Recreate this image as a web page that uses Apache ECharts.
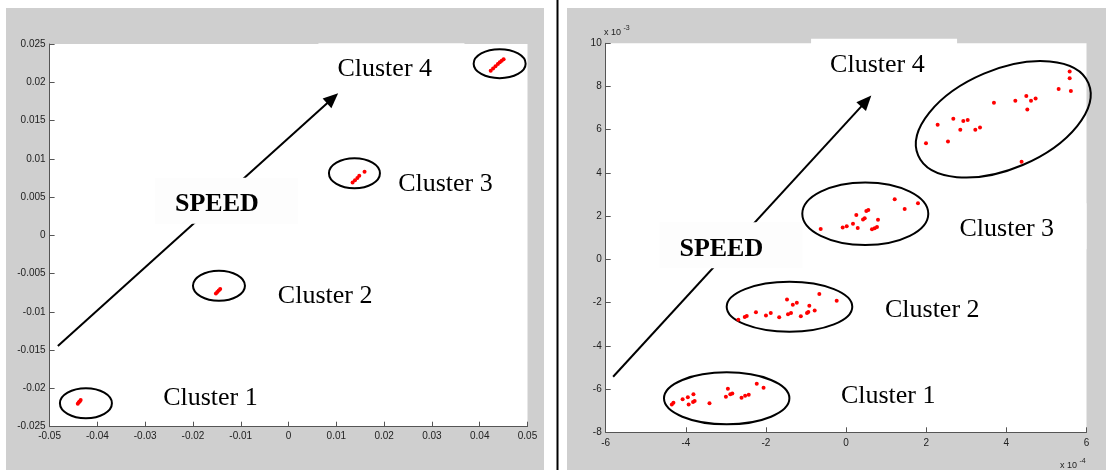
<!DOCTYPE html>
<html><head><meta charset="utf-8">
<script src="https://cdn.jsdelivr.net/npm/echarts@6/dist/echarts.min.js"></script>
<style>html,body{margin:0;padding:0;background:#fff}#c{width:1106px;height:470px}</style>
</head><body><div id="c"></div>
<script>
// ---------- tick labels ----------
const leftXTicks = ['-0.05','-0.04','-0.03','-0.02','-0.01','0','0.01','0.02','0.03','0.04','0.05'];
const leftYTicks = ['-0.025','-0.02','-0.015','-0.01','-0.005','0','0.005','0.01','0.015','0.02','0.025'];
const rightXTicks = ['-6','-4','-2','0','2','4','6'];
const rightYTicks = ['-8','-6','-4','-2','0','2','4','6','8','10'];
const clusterNames = ['Cluster 1','Cluster 2','Cluster 3','Cluster 4'];
const arrowLabel = 'SPEED';

// ---------- left panel data ----------
const leftCluster1 = [[-0.0441,-0.0220],[-0.0439,-0.0218],[-0.0437,-0.0217],[-0.0435,-0.0215]];
const leftCluster2 = [[-0.0152,-0.0076],[-0.0149,-0.0074],[-0.0146,-0.0072],[-0.0143,-0.0070]];
const leftCluster3 = [[0.0134,0.0069],[0.0139,0.0072],[0.0144,0.0075],[0.0148,0.0078],[0.0159,0.0083]];
const leftCluster4 = [[0.0423,0.0215],[0.0428,0.0218],[0.0433,0.0221],[0.0438,0.0224],[0.0442,0.0226],[0.0446,0.0228],[0.0450,0.0230]];

// ---------- right panel data (x in 1e-4, y in 1e-3) ----------
const rightCluster1 = [[-4.35,-6.71],[-4.31,-6.63],[-4.08,-6.47],[-3.95,-6.38],[-3.93,-6.71],[-3.81,-6.24],[-3.82,-6.60],[-3.78,-6.55],[-3.41,-6.66],[-3.00,-6.35],[-2.95,-5.98],[-2.89,-6.24],[-2.84,-6.21],[-2.61,-6.40],[-2.52,-6.31],[-2.43,-6.26],[-2.23,-5.75],[-2.06,-5.94]];
const rightCluster2 = [[-2.69,-2.79],[-2.53,-2.67],[-2.48,-2.62],[-2.25,-2.45],[-2.00,-2.59],[-1.88,-2.48],[-1.67,-2.68],[-1.475,-1.86],[-1.45,-2.54],[-1.375,-2.48],[-1.33,-2.10],[-1.23,-2.00],[-1.13,-2.63],[-0.976,-2.48],[-0.943,-2.43],[-0.918,-2.14],[-0.784,-2.36],[-0.668,-1.60],[-0.235,-1.91]];
const rightCluster3 = [[-0.634,1.41],[-0.085,1.48],[0.015,1.53],[0.172,1.65],[0.255,2.05],[0.29,1.45],[0.422,1.85],[0.464,1.90],[0.505,2.24],[0.555,2.29],[0.646,1.39],[0.713,1.44],[0.771,1.50],[0.796,1.84],[1.213,2.78],[1.462,2.33],[1.794,2.60]];
const rightCluster4 = [[1.994,5.37],[2.285,6.23],[2.543,5.46],[2.676,6.51],[2.85,6.00],[2.925,6.40],[3.035,6.45],[3.225,6.00],[3.342,6.10],[3.69,7.25],[4.224,7.34],[4.498,7.56],[4.523,6.94],[4.615,7.34],[4.73,7.44],[4.38,4.52],[5.305,7.89],[5.58,8.69],[5.58,8.38],[5.61,7.79]];

// ---------- annotation anchors (data coordinates) ----------
const leftLabelAnchors = [[-0.02624,-0.02122],[-0.00224,-0.0080],[0.02293,0.00671],[0.01023,0.02169]];
const leftSpeedAnchor = [-0.02377,0.00406];
const leftEllipseCenters = [[-0.0424,-0.02194],[-0.01456,-0.00658],[0.01379,0.00811],[0.04417,0.02243]];
const leftArrow = [[-0.04827,-0.01446],[0.01038,0.01856]];

const rightLabelAnchors = [[-0.13,-6.35],[0.97,-2.34],[2.83,1.39],[-0.40,9.01]];
const rightSpeedAnchor = [-4.16,0.49];
const rightEllipseCenters = [[-2.98,-6.43],[-1.413,-2.19],[0.479,2.115],[3.923,6.483]];
const rightArrow = [[-5.815,-5.43],[0.629,7.58]];

// ---------- layout / style ----------
const GRID_L = {left:49.6, top:44, width:477.9, height:382.7};
const GRID_R = {left:605.7, top:43.3, width:480.8, height:389};
const leftEllipseSizes = [[26,15,0],[26,15,0],[25.5,15,0],[26,14.5,0]];
const rightEllipseSizes = [[62.7,26,0],[62.8,25,0],[63,31.3,0],[92.5,49.6,23]];
const PANEL_GRAY = '#cfcfcf';
const AXIS_COLOR = '#555';

function axisCommon(labels, min, interval, margin){
  return {
    type:'value', min:min, max:min + interval*(labels.length-1), interval:interval,
    axisLine:{show:true, onZero:false, lineStyle:{color:AXIS_COLOR, width:1}},
    axisTick:{show:true, inside:true, length:5, lineStyle:{color:AXIS_COLOR}},
    axisLabel:{fontSize:10, color:'#222', fontFamily:'Liberation Sans', margin:margin,
      formatter:function(v){ const i=Math.round((v-min)/interval); return labels[i]; }},
    splitLine:{show:false}
  };
}

const chart = echarts.init(document.getElementById('c'), null, {renderer:'canvas'});
const scat = (data, xi) => ({type:'scatter', xAxisIndex:xi, yAxisIndex:xi, data:data, symbol:'circle', symbolSize:4,
  itemStyle:{color:'#ff0000', opacity:1}, z:10, silent:true});

chart.setOption({
  animation:false,
  grid:[
    Object.assign({show:false}, GRID_L),
    Object.assign({show:false}, GRID_R)
  ],
  xAxis:[
    Object.assign({gridIndex:0}, axisCommon(leftXTicks, -0.05, 0.01, 5)),
    Object.assign({gridIndex:1}, axisCommon(rightXTicks, -6, 2, 6))
  ],
  yAxis:[
    Object.assign({gridIndex:0}, axisCommon(leftYTicks, -0.025, 0.005, 4)),
    Object.assign({gridIndex:1}, axisCommon(rightYTicks, -8, 2, 4))
  ],
  series:[
    scat(leftCluster1,0), scat(leftCluster2,0), scat(leftCluster3,0), scat(leftCluster4,0),
    scat(rightCluster1,1), scat(rightCluster2,1), scat(rightCluster3,1), scat(rightCluster4,1)
  ]
});

const g = [];
// panel backgrounds
g.push({type:'rect', shape:{x:6,y:8,width:538,height:462}, style:{fill:PANEL_GRAY}, z:-100, silent:true});
g.push({type:'rect', shape:{x:567,y:8,width:539,height:462}, style:{fill:PANEL_GRAY}, z:-100, silent:true});
g.push({type:'rect', shape:{x:GRID_L.left,y:GRID_L.top,width:GRID_L.width,height:GRID_L.height}, style:{fill:'#fff'}, z:-99, silent:true});
g.push({type:'rect', shape:{x:GRID_R.left,y:GRID_R.top,width:GRID_R.width,height:GRID_R.height}, style:{fill:'#fff'}, z:-99, silent:true});
g.push({type:'rect', shape:{x:556.5,y:0,width:2,height:470}, style:{fill:'#000'}, z:-98, silent:true});

function px(gi, p){ return chart.convertToPixel({gridIndex:gi}, p); }

function addPanel(gi, labelAnchors, speedAnchor, centers, sizes, arrow){
  // label boxes
  labelAnchors.forEach(function(a, i){
    const p = px(gi, a);
    g.push({type:'rect', shape:{x:p[0]-19, y:p[1]-26, width:146, height:46}, style:{fill:'#ffffff'}, z:1, silent:true});
    g.push({type:'text', x:p[0], y:p[1], style:{text:clusterNames[i], font:'26px "Liberation Serif"', fill:'#000',
      align:'left', verticalAlign:'middle', textAlign:'left', textVerticalAlign:'middle'}, z:20, silent:true});
  });
  // ellipses
  centers.forEach(function(c, i){
    const p = px(gi, c);
    const s = sizes[i];
    g.push({type:'ellipse', x:p[0], y:p[1], rotation:s[2]*Math.PI/180, shape:{cx:0, cy:0, rx:s[0], ry:s[1]},
      style:{fill:'none', stroke:'#000', lineWidth:2}, z:5, silent:true});
  });
  // arrow
  const a0 = px(gi, arrow[0]), a1 = px(gi, arrow[1]);
  const dx = a1[0]-a0[0], dy = a1[1]-a0[1], len = Math.sqrt(dx*dx+dy*dy);
  const ux = dx/len, uy = dy/len, L = 15, W = 6.5;
  const bx = a1[0]-ux*L, by = a1[1]-uy*L;
  g.push({type:'line', shape:{x1:a0[0], y1:a0[1], x2:bx+ux*2, y2:by+uy*2}, style:{stroke:'#000', lineWidth:2}, z:5, silent:true});
  g.push({type:'polygon', shape:{points:[[a1[0],a1[1]],[bx-uy*W, by+ux*W],[bx+uy*W, by-ux*W]]}, style:{fill:'#000'}, z:5, silent:true});
  // speed label with box covering the arrow
  const sp = px(gi, speedAnchor);
  g.push({type:'rect', shape:{x:sp[0]-20, y:sp[1]-26.5, width:143, height:46}, style:{fill:'#fdfdfd'}, z:6, silent:true});
  g.push({type:'text', x:sp[0], y:sp[1], style:{text:arrowLabel, font:'bold 26px "Liberation Serif"', fill:'#000',
    align:'left', verticalAlign:'middle', textAlign:'left', textVerticalAlign:'middle'}, z:20, silent:true});
}
addPanel(0, leftLabelAnchors, leftSpeedAnchor, leftEllipseCenters, leftEllipseSizes, leftArrow);
addPanel(1, rightLabelAnchors, rightSpeedAnchor, rightEllipseCenters, rightEllipseSizes, rightArrow);

// exponent labels
function expLabel(x, y, base, exp){
  g.push({type:'text', x:x, y:y, style:{text:base, font:'9px "Liberation Sans"', fill:'#222', align:'left', verticalAlign:'middle', textAlign:'left', textVerticalAlign:'middle'}, z:20, silent:true});
  g.push({type:'text', x:x+19.5, y:y-5, style:{text:exp, font:'7px "Liberation Sans"', fill:'#222', align:'left', verticalAlign:'middle', textAlign:'left', textVerticalAlign:'middle'}, z:20, silent:true});
}
expLabel(604, 33, 'x 10', '-3');
expLabel(1060, 466, 'x 10', '-4');

chart.setOption({graphic:{elements:g}});
</script></body></html>
